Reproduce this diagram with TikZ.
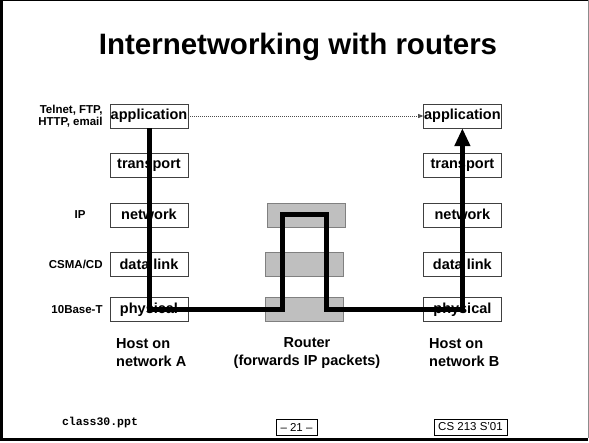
\documentclass[tikz,border=0pt]{standalone}
\usepackage{fontspec}
\setmainfont{Liberation Sans}
\newfontfamily\slidemono{Liberation Mono}
\usepackage{tikz}
\usetikzlibrary{positioning,arrows.meta}

\begin{document}
\begin{tikzpicture}[x=1pt,y=-1pt,node distance=25pt,
layer/.style={
rectangle,
draw=black!75,
thin,
inner sep=0pt,
minimum width=78pt,
minimum height=24pt,
font=\bfseries\fontsize{14.5}{14.5}\selectfont
},
router/.style={layer,fill=black!25,draw=black!50},
side/.style={inner sep=0pt,font=\bfseries\fontsize{11.5}{11.5}\selectfont},
hosttext/.style={inner sep=0pt,font=\bfseries\fontsize{14.5}{18}\selectfont},
footbox/.style={draw,thin,inner sep=0pt,minimum height=16pt,font=\fontsize{11.5}{11.5}\selectfont},
pkt/.style={line width=5pt,-{Triangle[width=15pt,length=18pt]}},
peer/.style={dash pattern=on 1pt off 1pt,black!70,line width=0.6pt,-{Triangle[width=4pt,length=5pt]}},
]
\useasboundingbox (0,0) rectangle (589,442);
\fill[white] (0,0) rectangle (589,442);
% slide frame
\draw[line width=1pt] (0,0.5) -- (588,0.5);
\draw[line width=3pt] (1.5,0) -- (1.5,439.5) -- (588,439.5) ;
\draw[black!45,line width=1pt] (588,0) -- (588,438);

\node (title) [anchor=base,font=\bfseries\fontsize{29.5}{29.5}\selectfont] at (298,54) {Internetworking with routers};

% host on network A
\node (appA) [layer] at (149,116) {application};
\node (trA) [layer,below=of appA] {transport};
\node (netA) [layer,below=of trA] {network};
\node (dlA) [layer,below=of netA] {data link};
\node (phyA) [layer,below=21pt of dlA] {physical};

% host on network B
\node (appB) [layer,right=235pt of appA] {application};
\node (trB) [layer,below=of appB] {transport};
\node (netB) [layer,below=of trB] {network};
\node (dlB) [layer,below=of netB] {data link};
\node (phyB) [layer,below=21pt of dlB] {physical};

% router
\node (rnet) [router,right=79pt of netA] {};
\node (rdl) [router,right=77pt of dlA] {};
\node (rphy) [router,right=77pt of phyA] {};

% protocols
\node (proto) [side,align=right,left=7pt of appA] {Telnet, FTP,\\HTTP, email};
\node (ip) [side,left=24pt of netA] {IP};
\node (mac) [side,left=7pt of dlA] {CSMA/CD};
\node (wire) [side,left=7pt of phyA] {10Base-T};

\node (hostA) [hosttext,align=left,anchor=west] at (116,353) {Host on\\network A};
\node (rtext) [hosttext,align=center] at (307,353) {Router\\(forwards IP packets)};
\node (hostB) [hosttext,align=left,anchor=west] at (429,353) {Host on\\network B};

\coordinate (up) at ([xshift=-22pt]rphy.center);
\coordinate (down) at ([xshift=20pt]rnet.center);
\draw[peer] (appA.east) -- (appB.west);
\draw[pkt] (appA.south) |- (up) |- (down) |- (phyB.center) -- (appB.south);

% footer
\node (file) [font=\slidemono\bfseries\fontsize{11.5}{11.5}\selectfont] at (100,423) {class30.ppt};
\node (page) [footbox,minimum width=41pt] at (296.5,427) {– 21 –};
\node (course) [footbox,minimum width=73pt] at (470.5,427) {CS 213 S’01};
\end{tikzpicture}
\end{document}
